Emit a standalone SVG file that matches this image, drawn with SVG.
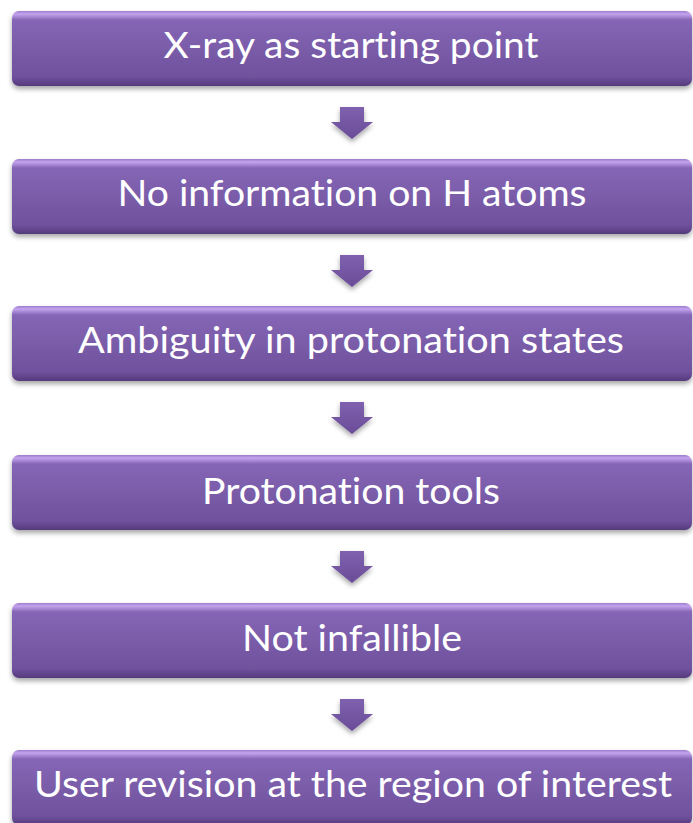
<svg xmlns="http://www.w3.org/2000/svg" width="693" height="823" viewBox="0 0 693 823">
<defs>
<linearGradient id="boxg" x1="0" y1="0" x2="0" y2="1">
<stop offset="0" stop-color="#9a7ccb"/>
<stop offset="0.04" stop-color="#c4a4ee"/>
<stop offset="0.12" stop-color="#8566b6"/>
<stop offset="0.5" stop-color="#7a5ca9"/>
<stop offset="0.88" stop-color="#6f519d"/>
<stop offset="1" stop-color="#553a7c"/>
</linearGradient>
<linearGradient id="arrg" x1="0" y1="0" x2="0" y2="1">
<stop offset="0" stop-color="#7f61b0"/>
<stop offset="1" stop-color="#6a4c98"/>
</linearGradient>
<filter id="sh" x="-5%" y="-20%" width="110%" height="150%">
<feDropShadow dx="0" dy="3" stdDeviation="2.5" flood-color="#000" flood-opacity="0.35"/>
</filter>
<g id="arrow">
<path d="M-12 0 H12 V15 H21 L0 32 L-21 15 H-12 Z"/>
</g>
</defs>
<style>
.box{fill:url(#boxg);filter:url(#sh);}
.lbl{fill:#ffffff;font-family:Lato,"Open Sans","Liberation Sans",sans-serif;font-size:37px;text-anchor:middle;font-variant-ligatures:none;font-feature-settings:"liga" 0;}
.arr{fill:url(#arrg);filter:url(#sh);}
</style>
<rect width="693" height="823" fill="#ffffff"/>
<g id="connectors">
<use href="#arrow" class="arr" x="352" y="107"/>
<use href="#arrow" class="arr" x="352" y="255"/>
<use href="#arrow" class="arr" x="352" y="402"/>
<use href="#arrow" class="arr" x="352" y="551"/>
<use href="#arrow" class="arr" x="352" y="699"/>
</g>
<g id="n1"><rect class="box" x="12" y="11" width="680" height="75" rx="7"/><text class="lbl" x="351" y="58" textLength="375" lengthAdjust="spacingAndGlyphs">X-ray as starting point</text></g>
<g id="n2"><rect class="box" x="12" y="159" width="680" height="75" rx="7"/><text class="lbl" x="352" y="206" textLength="469" lengthAdjust="spacingAndGlyphs">No information on H atoms</text></g>
<g id="n3"><rect class="box" x="12" y="306" width="680" height="75" rx="7"/><text class="lbl" x="351" y="353" textLength="546" lengthAdjust="spacingAndGlyphs">Ambiguity in protonation states</text></g>
<g id="n4"><rect class="box" x="12" y="455" width="680" height="75" rx="7"/><text class="lbl" x="351" y="504" textLength="298" lengthAdjust="spacingAndGlyphs">Protonation tools</text></g>
<g id="n5"><rect class="box" x="12" y="603" width="680" height="75" rx="7"/><text class="lbl" x="352" y="650.5" textLength="220" lengthAdjust="spacingAndGlyphs">Not infallible</text></g>
<g id="n6"><rect class="box" x="12" y="750" width="680" height="75" rx="7"/><text class="lbl" x="353" y="797" textLength="638" lengthAdjust="spacingAndGlyphs">User revision at the region of interest</text></g>
</svg>
